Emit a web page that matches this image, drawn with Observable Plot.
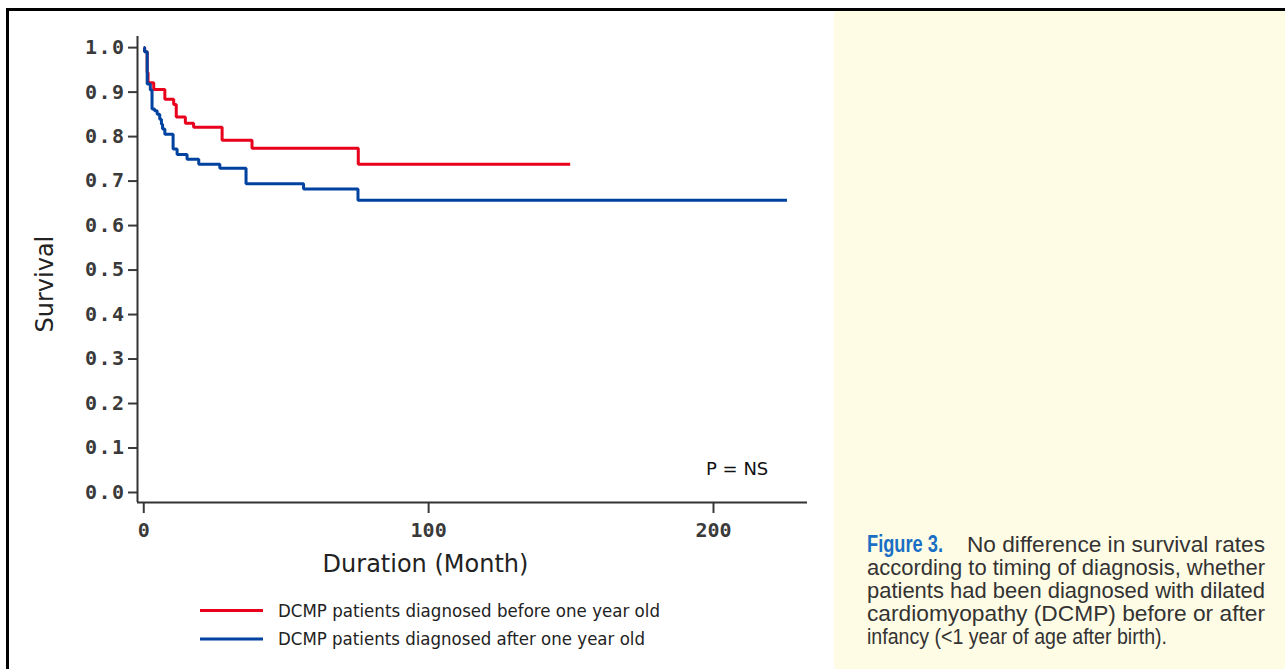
<!DOCTYPE html>
<html>
<head>
<meta charset="utf-8">
<script src="https://cdn.jsdelivr.net/npm/d3@7"></script>
<script src="https://cdn.jsdelivr.net/npm/@observablehq/plot@0.6"></script>
<style>
  html, body { margin: 0; padding: 0; background: #fff; }
  #page { position: relative; width: 1285px; height: 669px; overflow: hidden; background: #fff; }
  #topline { position: absolute; left: 6px; top: 8px; width: 1279px; height: 3px; background: #000; }
  #leftline { position: absolute; left: 6px; top: 8px; width: 3px; height: 661px; background: #000; }
  #panel { position: absolute; left: 834px; top: 11px; width: 451px; height: 658px; background: #fffce6; }
  #chart { position: absolute; left: 0; top: 0; }
  #overlay { position: absolute; left: 0; top: 0; }
  #chart g[aria-label="y-axis tick label"] { letter-spacing: 1.5px; }
</style>
</head>
<body>
<div id="page">
  <div id="panel"></div>
  <div id="topline"></div>
  <div id="leftline"></div>
  <div id="chart"></div>
  <svg id="overlay" width="1285" height="669"></svg>
</div>
<script>
// ---- data ----
const groups = ["DCMP patients diagnosed before one year old", "DCMP patients diagnosed after one year old"];
const groupColors = ["#e8001c", "#0042a0"];

// before one year old (red)
const redMonths   = [0, 0.3, 1.2, 1.5, 3.5, 7.4, 10.5, 11.4, 14.6, 17.5, 27.5, 38.0, 75.3, 149.7];
const redSurvival = [1.0, 0.991, 0.944, 0.921, 0.906, 0.884, 0.872, 0.844, 0.830, 0.821, 0.792, 0.774, 0.738, 0.738];

// after one year old (blue)
const blueMonths   = [0, 0.3, 1.2, 2.3, 2.9, 3.8, 4.7, 5.6, 6.2, 6.6, 7.4, 10.3, 11.7, 15.2, 19.3, 26.7, 35.9, 56.1, 75.2, 225.8];
const blueSurvival = [1.0, 0.991, 0.918, 0.905, 0.862, 0.858, 0.850, 0.839, 0.828, 0.817, 0.805, 0.772, 0.760, 0.749, 0.738, 0.729, 0.694, 0.682, 0.657, 0.657];

const xTicks = [0, 100, 200];
const yTicks = [0, 0.1, 0.2, 0.3, 0.4, 0.5, 0.6, 0.7, 0.8, 0.9, 1.0];
const xDomain = [-2.2, 233];
const yDomain = [-0.0225, 1.025];
const xLabel = "Duration (Month)";
const yLabel = "Survival";
const pLabel = ["P = NS"];
const pPosition = { month: 208.3, survival: 0.053 };

const figureLabel = "Figure 3.";
const captionLines = [
  "No difference in survival rates",
  "according to timing of diagnosis, whether",
  "patients had been diagnosed with dilated",
  "cardiomyopathy (DCMP) before or after",
  "infancy (<1 year of age after birth)."
];

// ---- table ----
const rows = [];
redMonths.forEach((m, i) => rows.push({ group: groups[0], month: m, survival: redSurvival[i] }));
blueMonths.forEach((m, i) => rows.push({ group: groups[1], month: m, survival: blueSurvival[i] }));

const axisColor = "#333";

const chart = Plot.plot({
  width: 830,
  height: 590,
  marginLeft: 137,
  marginRight: 23,
  marginTop: 36,
  marginBottom: 88,
  style: { background: "none", overflow: "visible" },
  x: { domain: xDomain },
  y: { domain: yDomain },
  color: { domain: groups, range: groupColors },
  marks: [
    Plot.axisY({
      ticks: yTicks, tickFormat: d3.format(".1f"), tickSize: 9, tickPadding: 3,
      fontSize: 20, fontFamily: "DejaVu Sans Mono", fontWeight: "bold", color: "#3a3a3a", strokeWidth: 2, label: null
    }),
    Plot.axisX({
      ticks: xTicks, tickFormat: d3.format("d"), tickSize: 11, tickPadding: 9,
      fontSize: 20, fontFamily: "DejaVu Sans Mono", fontWeight: "bold", color: "#3a3a3a", strokeWidth: 2, label: null
    }),
    Plot.ruleX([xDomain[0]], { stroke: axisColor, strokeWidth: 2 }),
    Plot.ruleY([yDomain[0]], { stroke: axisColor, strokeWidth: 2 }),
    Plot.line(rows, {
      x: "month", y: "survival", z: "group", stroke: "group",
      curve: "step-after", strokeWidth: 3, strokeLinejoin: "miter", strokeLinecap: "butt"
    }),
    Plot.text(pLabel, {
      x: () => pPosition.month, y: () => pPosition.survival, text: d => d,
      fontSize: 18, fontFamily: "DejaVu Sans", fill: "#111", textAnchor: "middle"
    }),
    Plot.text([xLabel], {
      frameAnchor: "bottom", text: d => d, dx: -47, dy: 62,
      fontSize: 24, fontFamily: "DejaVu Sans", fill: "#222", lineAnchor: "middle"
    }),
    Plot.text([yLabel], {
      frameAnchor: "left", text: d => d, rotate: -90, dx: -92, dy: 63,
      fontSize: 24, fontFamily: "DejaVu Sans", fill: "#222", lineAnchor: "middle"
    })
  ]
});
document.getElementById("chart").appendChild(chart);

// ---- legend & caption ----
const ov = d3.select("#overlay");
const legendY = [610.5, 639];
const legendTextLen = [382, 367];
groups.forEach((g, i) => {
  ov.append("line").attr("x1", 200).attr("x2", 263).attr("y1", legendY[i]).attr("y2", legendY[i])
    .attr("stroke", groupColors[i]).attr("stroke-width", 3);
  ov.append("text").attr("x", 278).attr("y", legendY[i] + 6)
    .attr("font-family", "DejaVu Sans").attr("font-size", 17).attr("fill", "#222")
    .attr("textLength", legendTextLen[i]).attr("lengthAdjust", "spacingAndGlyphs")
    .text(g);
});

const capFont = "'Liberation Sans Narrow', 'Liberation Sans', Arial, sans-serif";
const baselines = [552, 575, 598, 621, 644];
ov.append("text").attr("x", 867).attr("y", baselines[0])
  .attr("font-family", capFont).attr("font-size", 23).attr("font-weight", "bold").attr("fill", "#1a6fc4")
  .attr("textLength", 76).attr("lengthAdjust", "spacingAndGlyphs").text(figureLabel);
ov.append("text").attr("x", 967).attr("y", baselines[0])
  .attr("font-family", capFont).attr("font-size", 22).attr("fill", "#333")
  .attr("textLength", 298).attr("lengthAdjust", "spacingAndGlyphs").text(captionLines[0]);
const capLens = [null, 398, 398, 398, 300];
for (let i = 1; i < captionLines.length; i++) {
  ov.append("text").attr("x", 867).attr("y", baselines[i])
    .attr("font-family", capFont).attr("font-size", 22).attr("fill", "#333")
    .attr("textLength", capLens[i]).attr("lengthAdjust", "spacingAndGlyphs").text(captionLines[i]);
}
</script>
</body>
</html>
